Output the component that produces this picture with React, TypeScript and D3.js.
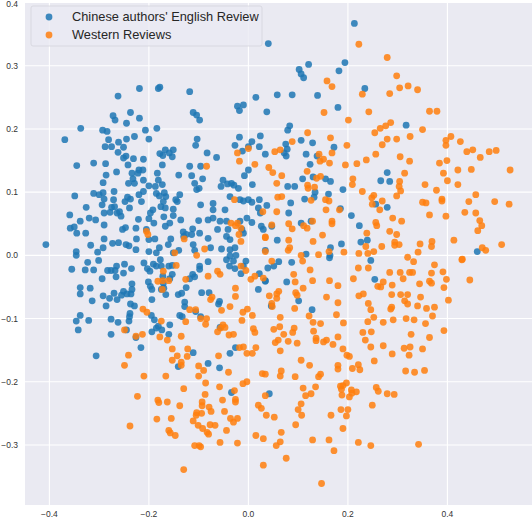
import React from "react";
import * as d3 from "d3";

const seriesNames = ["Chinese authors' English Review", "Western Reviews"];
const xTicks = [-0.4, -0.2, 0.0, 0.2, 0.4];
const yTicks = [-0.3, -0.2, -0.1, 0.0, 0.1, 0.2, 0.3, 0.4];

const chinesePoints: [number, number][] = [
[-0.407,0.017],[-0.369,0.183],[-0.337,0.201],[-0.345,0.142],[-0.349,0.094],[-0.359,0.064],[-0.358,0.043],[-0.345,0.035],[-0.35,0.045],[-0.338,0.054],[-0.346,0.006],[-0.346,0.0],[-0.327,0.035],[-0.326,0.076],[-0.311,0.146],[-0.311,0.098],[-0.32,0.059],[-0.307,0.056],[-0.317,0.016],[-0.303,0.005],[-0.3,0.096],[-0.292,0.099],[-0.294,0.08],[-0.292,0.115],[-0.293,0.198],[-0.284,0.196],[-0.288,0.172],[-0.287,0.145],[-0.286,0.127],[-0.29,0.089],[-0.29,0.067],[-0.29,0.048],[-0.29,0.026],[-0.292,0.012],[-0.275,0.172],[-0.281,0.183],[-0.272,0.221],[-0.268,0.214],[-0.262,0.252],[-0.261,0.179],[-0.262,0.163],[-0.265,0.132],[-0.27,0.101],[-0.271,0.088],[-0.275,0.076],[-0.278,0.068],[-0.269,0.077],[-0.264,0.067],[-0.256,0.062],[-0.259,0.069],[-0.273,0.019],[-0.261,0.02],[-0.251,0.154],[-0.246,0.157],[-0.245,0.209],[-0.237,0.226],[-0.245,0.184],[-0.251,0.171],[-0.229,0.188],[-0.219,0.217],[-0.219,0.264],[-0.207,0.198],[-0.184,0.201],[-0.178,0.266],[-0.181,0.264],[-0.2,0.184],[-0.211,0.152],[-0.231,0.153],[-0.242,0.143],[-0.234,0.13],[-0.241,0.114],[-0.232,0.121],[-0.229,0.114],[-0.222,0.13],[-0.22,0.135],[-0.212,0.135],[-0.211,0.119],[-0.2,0.11],[-0.211,0.101],[-0.215,0.085],[-0.22,0.096],[-0.237,0.089],[-0.243,0.092],[-0.248,0.085],[-0.239,0.075],[-0.253,0.041],[-0.247,0.044],[-0.226,0.043],[-0.221,0.057],[-0.225,0.026],[-0.226,0.009],[-0.246,0.017],[-0.24,0.015],[-0.205,0.041],[-0.2,0.058],[-0.197,0.067],[-0.192,0.072],[-0.19,0.051],[-0.2,0.025],[-0.2,0.006],[-0.188,0.026],[-0.179,0.012],[-0.185,0.004],[-0.185,0.098],[-0.187,0.109],[-0.181,0.119],[-0.183,0.13],[-0.173,0.143],[-0.172,0.158],[-0.178,0.161],[-0.167,0.167],[-0.159,0.162],[-0.153,0.156],[-0.151,0.167],[-0.173,0.112],[-0.169,0.099],[-0.166,0.093],[-0.171,0.085],[-0.179,0.094],[-0.176,0.077],[-0.167,0.075],[-0.17,0.061],[-0.167,0.046],[-0.158,0.051],[-0.151,0.063],[-0.151,0.073],[-0.143,0.085],[-0.14,0.127],[-0.138,0.096],[-0.146,0.088],[-0.136,0.056],[-0.131,0.037],[-0.13,0.03],[-0.14,0.008],[-0.156,0.026],[-0.161,0.017],[-0.151,0.004],[-0.118,0.259],[-0.118,0.141],[-0.114,0.126],[-0.108,0.114],[-0.111,0.226],[-0.104,0.222],[-0.098,0.214],[-0.103,0.184],[-0.106,0.174],[-0.096,0.141],[-0.092,0.121],[-0.083,0.162],[-0.064,0.155],[-0.104,0.104],[-0.099,0.106],[-0.096,0.08],[-0.1,0.055],[-0.112,0.042],[-0.114,0.033],[-0.125,0.033],[-0.111,0.017],[-0.108,0.008],[-0.098,0.035],[-0.081,0.056],[-0.071,0.059],[-0.071,0.072],[-0.071,0.082],[-0.062,0.041],[-0.081,0.027],[-0.076,0.012],[-0.055,0.109],[-0.051,0.119],[-0.042,0.113],[-0.034,0.114],[-0.029,0.111],[-0.037,0.093],[-0.047,0.072],[-0.057,0.054],[-0.044,0.054],[-0.041,0.041],[-0.044,0.03],[-0.037,0.025],[-0.054,0.01],[-0.037,0.009],[-0.027,0.012],[-0.025,0.0],[-0.037,-0.001],[-0.022,0.236],[-0.018,0.229],[-0.01,0.238],[0.015,0.25],[0.024,0.189],[0.007,0.18],[0.0,0.172],[-0.012,0.165],[-0.027,0.174],[-0.018,0.187],[0.022,0.172],[0.0,0.135],[0.008,0.112],[-0.008,0.126],[-0.02,0.106],[-0.017,0.088],[-0.01,0.086],[0.0,0.088],[0.007,0.084],[0.022,0.088],[0.02,0.075],[-0.003,0.059],[0.007,0.052],[0.024,0.067],[-0.01,0.035],[-0.013,0.041],[-0.017,0.054],[0.026,0.046],[0.03,0.041],
[0.213,0.367],[0.04,0.335],[0.121,0.302],[0.102,0.294],[0.106,0.287],[0.111,0.281],[0.182,0.292],[0.194,0.305],[0.234,0.264],[0.058,0.254],[0.088,0.254],[0.139,0.253],[0.037,0.227],[0.18,0.234],[0.317,0.206],[0.083,0.205],[0.079,0.198],[0.106,0.182],[0.129,0.178],[0.075,0.176],[0.078,0.168],[0.072,0.162],[0.076,0.157],[0.116,0.16],[0.138,0.157],[0.172,0.171],[0.034,0.16],[0.124,0.144],[0.279,0.131],[0.266,0.118],[0.284,0.117],[0.079,0.109],[0.093,0.109],[0.13,0.124],[0.155,0.121],[0.165,0.117],[0.109,0.121],[0.134,0.1],[0.161,0.097],[0.113,0.089],[0.132,0.092],[0.19,0.104],[0.085,0.083],[0.037,0.079],[0.081,0.067],[0.185,0.074],[0.279,0.076],[0.256,0.081],[0.207,0.063],[0.106,0.051],[0.126,0.054],[0.047,0.046],[0.223,0.047],[0.058,0.024],[0.226,0.021],[0.239,0.024],[0.187,0.018],[0.165,0.012],[0.164,0.0],[0.116,0.002],[0.034,0.008],[0.46,0.006],
[-0.355,-0.022],[-0.328,-0.023],[-0.323,-0.011],[-0.311,-0.023],[-0.301,-0.008],[-0.283,-0.024],[-0.276,-0.024],[-0.268,-0.024],[-0.265,-0.017],[-0.249,-0.014],[-0.251,-0.028],[-0.235,-0.021],[-0.266,-0.034],[-0.294,-0.037],[-0.338,-0.051],[-0.338,-0.061],[-0.318,-0.052],[-0.314,-0.072],[-0.292,-0.064],[-0.286,-0.08],[-0.279,-0.068],[-0.27,-0.06],[-0.264,-0.07],[-0.255,-0.063],[-0.251,-0.057],[-0.244,-0.061],[-0.236,-0.061],[-0.237,-0.077],[-0.229,-0.08],[-0.234,-0.045],[-0.234,-0.054],[-0.338,-0.095],[-0.346,-0.104],[-0.342,-0.118],[-0.321,-0.103],[-0.276,-0.101],[-0.262,-0.106],[-0.276,-0.125],[-0.239,-0.097],[-0.24,-0.104],[-0.245,-0.118],[-0.238,-0.092],[-0.226,-0.13],[-0.216,-0.146],[-0.306,-0.159],[-0.21,-0.012],[-0.203,-0.021],[-0.198,-0.025],[-0.191,-0.014],[-0.185,-0.017],[-0.177,-0.007],[-0.175,-0.017],[-0.16,-0.017],[-0.153,-0.016],[-0.201,-0.042],[-0.197,-0.049],[-0.194,-0.054],[-0.172,-0.033],[-0.171,-0.044],[-0.17,-0.052],[-0.175,-0.054],[-0.153,-0.03],[-0.158,-0.037],[-0.166,-0.062],[-0.194,-0.07],[-0.195,-0.095],[-0.189,-0.102],[-0.185,-0.115],[-0.181,-0.112],[-0.194,-0.121],[-0.174,-0.118],[-0.158,-0.11],[-0.16,-0.125],[-0.141,-0.062],[-0.134,-0.06],[-0.128,-0.074],[-0.128,-0.081],[-0.125,-0.051],[-0.138,-0.095],[-0.133,-0.097],[-0.141,-0.176],[-0.111,-0.154],[-0.118,-0.037],[-0.112,-0.03],[-0.108,-0.034],[-0.098,-0.022],[-0.098,-0.017],[-0.106,-0.089],[-0.096,-0.097],[-0.094,-0.059],[-0.079,-0.059],[-0.081,-0.171],[-0.058,-0.178],[-0.06,-0.077],[-0.058,-0.073],[-0.057,-0.114],[-0.037,-0.155],[-0.026,-0.146],[-0.034,-0.217],[-0.038,-0.017],[-0.027,-0.021],[-0.015,-0.029],[-0.01,-0.017],[-0.005,-0.009],[-0.044,-0.007],[-0.081,-0.01],[-0.03,-0.009],[0.02,-0.054],[0.034,-0.04],[0.022,-0.029],
[0.061,-0.01],[0.051,-0.017],[0.039,-0.02],[0.087,-0.011],[0.077,-0.042],[0.101,-0.072],[0.046,-0.08],[0.128,-0.086],[0.246,-0.008],[0.254,-0.038],[0.042,-0.219],[0.163,-0.004],[0.034,-0.041]
];

const westernPoints: [number, number][] = [
[-0.084,0.141],[-0.022,0.162],[-0.018,0.149],[0.0,0.169],[0.013,0.144],[-0.028,0.088],[0.029,0.069],[0.034,0.028],[-0.205,0.038],[-0.202,0.033],[-0.129,0.026],[-0.148,0.004],[-0.104,0.0],[-0.088,0.01],[-0.035,0.051],[-0.022,0.051],[-0.026,0.047],[-0.015,0.043],[-0.019,0.033],[-0.015,0.022],[0.034,0.006],
[0.222,0.334],[0.279,0.313],[0.298,0.284],[0.304,0.265],[0.321,0.268],[0.34,0.262],[0.284,0.256],[0.229,0.255],[0.158,0.276],[0.168,0.267],[0.152,0.226],[0.242,0.227],[0.201,0.214],[0.364,0.228],[0.379,0.228],[0.286,0.21],[0.276,0.205],[0.265,0.201],[0.254,0.194],[0.35,0.199],[0.279,0.184],[0.298,0.184],[0.269,0.175],[0.325,0.188],[0.407,0.188],[0.397,0.182],[0.397,0.174],[0.426,0.18],[0.119,0.194],[0.165,0.186],[0.088,0.18],[0.198,0.174],[0.053,0.164],[0.064,0.167],[0.439,0.164],[0.451,0.167],[0.466,0.155],[0.484,0.164],[0.498,0.166],[0.168,0.162],[0.142,0.16],[0.151,0.152],[0.144,0.149],[0.163,0.146],[0.256,0.16],[0.305,0.156],[0.324,0.149],[0.237,0.151],[0.218,0.145],[0.195,0.143],[0.384,0.146],[0.399,0.15],[0.421,0.135],[0.448,0.136],[0.526,0.135],[0.392,0.13],[0.4,0.118],[0.421,0.112],[0.314,0.13],[0.304,0.117],[0.303,0.109],[0.306,0.102],[0.298,0.094],[0.355,0.112],[0.378,0.103],[0.389,0.089],[0.389,0.086],[0.35,0.084],[0.357,0.083],[0.443,0.085],[0.457,0.096],[0.495,0.085],[0.524,0.081],[0.435,0.068],[0.457,0.067],[0.465,0.055],[0.469,0.047],[0.461,0.039],[0.397,0.062],[0.364,0.064],[0.413,0.024],[0.509,0.017],[0.47,0.012],[0.477,0.008],[0.345,0.018],[0.368,0.014],[0.369,0.022],[0.341,0.005],[0.32,-0.003],[0.43,-0.006],[0.041,0.139],[0.049,0.131],[0.067,0.126],[0.057,0.114],[0.118,0.133],[0.137,0.122],[0.145,0.125],[0.119,0.111],[0.12,0.106],[0.133,0.108],[0.21,0.121],[0.209,0.112],[0.229,0.101],[0.252,0.095],[0.248,0.091],[0.249,0.081],[0.269,0.086],[0.264,0.072],[0.29,0.059],[0.308,0.054],[0.256,0.052],[0.258,0.047],[0.238,0.035],[0.284,0.038],[0.298,0.033],[0.294,0.021],[0.303,0.017],[0.294,0.016],[0.268,0.014],[0.252,0.006],[0.24,0.003],[0.222,0.003],[0.236,0.014],[0.059,0.092],[0.067,0.093],[0.057,0.069],[0.126,0.087],[0.155,0.088],[0.162,0.086],[0.156,0.072],[0.183,0.072],[0.168,0.054],[0.168,0.05],[0.129,0.054],[0.047,0.048],[0.081,0.05],[0.088,0.042],[0.111,0.047],[0.118,0.043],[0.034,0.029],[0.149,0.032],[0.13,0.022],[0.081,0.024],[0.083,0.012],[0.08,0.008],[0.162,0.006],[0.192,0.005],[0.141,0.001],[0.106,0.0],
[-0.145,-0.016],[-0.171,-0.025],[-0.182,-0.041],[-0.172,-0.04],[-0.16,-0.04],[-0.173,-0.054],[-0.126,-0.038],[-0.081,-0.033],[-0.062,-0.025],[-0.057,-0.03],[-0.015,-0.017],[-0.005,-0.024],[0.005,-0.038],[0.013,-0.033],[0.03,-0.036],[-0.026,-0.052],[-0.026,-0.065],[-0.076,-0.07],[-0.073,-0.066],[-0.037,-0.081],[-0.054,-0.087],[-0.011,-0.09],[-0.002,-0.085],[-0.013,-0.103],[0.008,-0.095],[0.01,-0.116],[0.013,-0.122],[0.015,-0.146],[0.008,-0.155],[-0.003,-0.155],[-0.01,-0.145],[-0.018,-0.146],[-0.039,-0.126],[-0.056,-0.115],[-0.062,-0.121],[-0.047,-0.114],[-0.051,-0.11],[-0.03,-0.125],[-0.084,-0.1],[-0.096,-0.1],[-0.086,-0.109],[-0.106,-0.086],[-0.118,-0.086],[-0.126,-0.105],[-0.175,-0.104],[-0.212,-0.085],[-0.204,-0.09],[-0.213,-0.125],[-0.226,-0.128],[-0.249,-0.118],[-0.241,-0.158],[-0.249,-0.174],[-0.21,-0.191],[-0.223,-0.223],[-0.238,-0.27],[-0.178,-0.129],[-0.163,-0.134],[-0.153,-0.148],[-0.153,-0.166],[-0.143,-0.159],[-0.135,-0.169],[-0.135,-0.174],[-0.122,-0.148],[-0.123,-0.16],[-0.135,-0.128],[-0.166,-0.191],[-0.13,-0.211],[-0.1,-0.175],[-0.1,-0.191],[-0.09,-0.182],[-0.086,-0.202],[-0.087,-0.22],[-0.093,-0.232],[-0.093,-0.238],[-0.094,-0.25],[-0.104,-0.249],[-0.105,-0.253],[-0.111,-0.262],[-0.101,-0.269],[-0.092,-0.274],[-0.077,-0.268],[-0.083,-0.28],[-0.08,-0.283],[-0.067,-0.269],[-0.079,-0.24],[-0.075,-0.247],[-0.052,-0.229],[-0.058,-0.208],[-0.06,-0.159],[-0.04,-0.185],[-0.048,-0.247],[-0.036,-0.258],[-0.03,-0.264],[-0.022,-0.258],[-0.028,-0.214],[-0.026,-0.228],[-0.026,-0.232],[-0.044,-0.277],[-0.057,-0.296],[-0.022,-0.297],[-0.108,-0.301],[-0.099,-0.301],[-0.096,-0.303],[-0.13,-0.339],[-0.155,-0.258],[-0.16,-0.277],[-0.157,-0.281],[-0.147,-0.285],[-0.138,-0.238],[-0.182,-0.229],[-0.18,-0.233],[-0.163,-0.232],[-0.184,-0.259],[-0.003,-0.2],[-0.011,-0.203],[0.034,-0.222],[0.02,-0.237],[0.026,-0.242],[0.015,-0.285],[0.03,-0.29],[0.03,-0.332],[0.028,-0.187],
[0.047,-0.009],[0.109,-0.009],[0.124,-0.023],[0.091,-0.03],[0.094,-0.042],[0.129,-0.04],[0.163,-0.04],[0.18,-0.048],[0.11,-0.052],[0.095,-0.059],[0.098,-0.063],[0.061,-0.057],[0.057,-0.061],[0.042,-0.064],[0.057,-0.068],[0.047,-0.076],[0.048,-0.081],[0.093,-0.084],[0.157,-0.066],[0.18,-0.075],[0.177,-0.094],[0.122,-0.096],[0.064,-0.098],[0.13,-0.106],[0.145,-0.108],[0.191,-0.107],[0.092,-0.115],[0.089,-0.122],[0.051,-0.117],[0.063,-0.113],[0.071,-0.125],[0.131,-0.12],[0.136,-0.131],[0.136,-0.135],[0.157,-0.134],[0.151,-0.137],[0.18,-0.129],[0.17,-0.141],[0.06,-0.134],[0.054,-0.138],[0.08,-0.136],[0.098,-0.139],[0.064,-0.151],[0.19,-0.148],[0.198,-0.158],[0.203,-0.16],[0.106,-0.166],[0.123,-0.174],[0.18,-0.174],[0.18,-0.18],[0.066,-0.183],[0.064,-0.191],[0.034,-0.188],[0.094,-0.192],[0.141,-0.192],[0.145,-0.188],[0.209,-0.179],[0.221,-0.173],[0.224,-0.181],[0.253,-0.167],[0.19,-0.206],[0.197,-0.202],[0.185,-0.207],[0.187,-0.212],[0.207,-0.213],[0.217,-0.216],[0.208,-0.218],[0.203,-0.224],[0.188,-0.221],[0.257,-0.209],[0.261,-0.215],[0.279,-0.219],[0.293,-0.22],[0.249,-0.237],[0.11,-0.21],[0.135,-0.208],[0.126,-0.219],[0.115,-0.222],[0.106,-0.235],[0.1,-0.244],[0.107,-0.253],[0.186,-0.244],[0.2,-0.244],[0.197,-0.254],[0.166,-0.253],[0.19,-0.274],[0.095,-0.268],[0.036,-0.253],[0.052,-0.256],[0.066,-0.28],[0.064,-0.295],[0.056,-0.301],[0.076,-0.321],[0.129,-0.292],[0.162,-0.292],[0.172,-0.309],[0.147,-0.361],[0.221,-0.296],[0.246,-0.301],[0.342,-0.299],[0.221,-0.02],[0.241,-0.02],[0.211,-0.037],[0.222,-0.064],[0.231,-0.061],[0.241,-0.076],[0.246,-0.086],[0.252,-0.098],[0.24,-0.105],[0.23,-0.122],[0.247,-0.121],[0.235,-0.134],[0.246,-0.145],[0.26,-0.049],[0.271,-0.042],[0.266,-0.05],[0.284,-0.027],[0.289,-0.047],[0.288,-0.062],[0.305,-0.027],[0.311,-0.037],[0.306,-0.062],[0.32,-0.062],[0.314,-0.072],[0.32,-0.077],[0.286,-0.085],[0.288,-0.082],[0.271,-0.106],[0.291,-0.102],[0.317,-0.1],[0.333,-0.102],[0.324,-0.027],[0.33,-0.027],[0.332,-0.01],[0.344,-0.045],[0.346,-0.066],[0.34,-0.08],[0.358,-0.084],[0.374,-0.082],[0.37,-0.096],[0.364,-0.041],[0.368,-0.044],[0.368,-0.028],[0.374,-0.015],[0.391,-0.026],[0.398,-0.038],[0.393,-0.051],[0.402,-0.071],[0.429,-0.007],[0.445,-0.039],[0.327,-0.125],[0.356,-0.108],[0.393,-0.119],[0.364,-0.13],[0.271,-0.143],[0.289,-0.156],[0.313,-0.147],[0.325,-0.145],[0.35,-0.148],[0.323,-0.158],[0.316,-0.183],[0.334,-0.185],[0.354,-0.182]
];

const W = 532;
const H = 518;
const plot = { left: 25, right: 532, top: 0, bottom: 505 };
const colors = ["#1f77b4", "#ff7f0e"];
const font = "'Liberation Sans', Arial, sans-serif";

export default function App() {
  const x = d3.scaleLinear().domain([-0.449, 0.57]).range([plot.left, plot.right]);
  const y = d3.scaleLinear().domain([-0.395, 0.404]).range([plot.bottom, plot.top]);
  const fmt = (v: number) => d3.format(".1f")(v).replace("-", "\u2212");
  const series = [chinesePoints, westernPoints];
  const bgTop = y(0.4);
  return (
    <svg width={W} height={H} style={{ position: "absolute", left: 0, top: 0, background: "#ffffff" }}>
      <rect x={plot.left} y={bgTop} width={plot.right - plot.left} height={plot.bottom - bgTop} fill="#eaeaf2" />
      {xTicks.map((t) => (
        <line key={"gx" + t} x1={x(t)} x2={x(t)} y1={bgTop} y2={plot.bottom} stroke="#ffffff" strokeWidth={1.1} />
      ))}
      {yTicks.map((t) => (
        <line key={"gy" + t} x1={plot.left} x2={plot.right} y1={y(t)} y2={y(t)} stroke="#ffffff" strokeWidth={1.1} />
      ))}
      {series.map((pts, si) => (
        <g key={"s" + si} fill={colors[si]} fillOpacity={0.85}>
          {pts.map((p, i) => (
            <circle key={i} cx={x(p[0])} cy={y(p[1])} r={3.4} />
          ))}
        </g>
      ))}
      {yTicks.map((t) => (
        <text key={"ty" + t} x={18} y={Math.max(y(t), 4)} dy="0.35em" textAnchor="end" fontFamily={font} fontSize={8.5} fill="#333333">
          {fmt(t)}
        </text>
      ))}
      {xTicks.map((t) => (
        <text key={"tx" + t} x={x(t)} y={517} textAnchor="middle" fontFamily={font} fontSize={8.5} fill="#333333">
          {fmt(t)}
        </text>
      ))}
      <g>
        <rect x={31} y={6} width={231} height={40} rx={2} fill="#eaeaf2" fillOpacity={0.8} stroke="#d4d4dc" strokeWidth={0.8} />
        {seriesNames.map((name, i) => (
          <g key={name}>
            <circle cx={49} cy={17 + i * 18} r={3.4} fill={colors[i]} fillOpacity={0.85} />
            <text x={72} y={21 + i * 18} fontFamily={font} fontSize={12.8} fill="#262626">
              {name}
            </text>
          </g>
        ))}
      </g>
    </svg>
  );
}
